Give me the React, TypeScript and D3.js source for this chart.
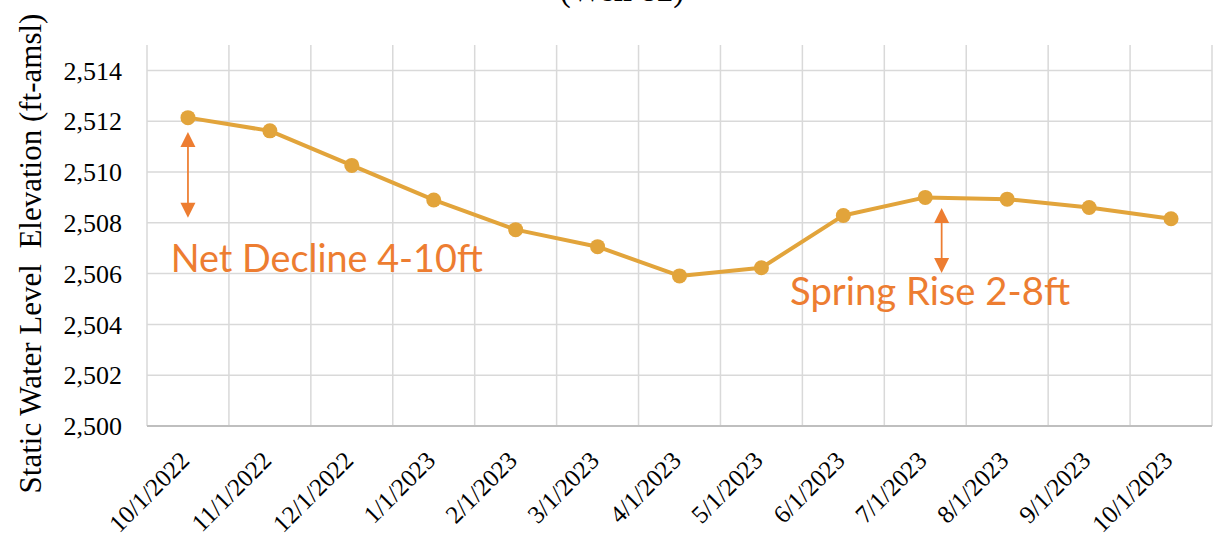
import React from "react";
import * as d3 from "d3";

const categories = [
  "10/1/2022", "11/1/2022", "12/1/2022", "1/1/2023", "2/1/2023", "3/1/2023", "4/1/2023",
  "5/1/2023", "6/1/2023", "7/1/2023", "8/1/2023", "9/1/2023", "10/1/2023",
];
const elevations = [
  2512.14, 2511.62, 2510.26, 2508.9, 2507.73, 2507.06, 2505.91,
  2506.23, 2508.29, 2509.0, 2508.93, 2508.6, 2508.16,
];
const yTicks = [2500, 2502, 2504, 2506, 2508, 2510, 2512, 2514];
const yDomain = [2500, 2515];

// annotations (category, band offset, top value, bottom value)
const arrowCategories = ["10/1/2022", "7/1/2023"];
const arrowOffsets = [0.5, 0.7];
const arrowTops = [2511.57, 2508.58];
const arrowBottoms = [2508.2, 2506.02];
const noteTexts = ["Net Decline 4-10ft", "Spring Rise 2-8ft"];
const noteCategories = ["10/1/2022", "6/1/2023"];
const noteOffsets = [0.29, -0.15];
const noteValues = [2506.06, 2504.76];
const noteWidths = [312, 280];

const W = 1216, H = 540;
const left = 147, right = 1212, top = 45, bottom = 426;

export default function App() {
  const x = d3.scaleBand<string>().domain(categories).range([left, right]).padding(0);
  const y = d3.scaleLinear().domain(yDomain).range([bottom, top]);
  const bw = x.bandwidth();
  const cx = (c: string) => (x(c) as number) + bw / 2;
  const line = d3
    .line<number>()
    .x((_, i) => cx(categories[i]))
    .y((d) => y(d));
  const boundaries = categories.map((c) => x(c) as number).concat([right]);
  const orange = "#ED7D31";
  const gold = "#E2A43B";
  const head = 15;

  return (
    <svg width={W} height={H} style={{ position: "absolute", left: 0, top: 0, background: "#fff" }}>
      <text x={622} y={1} textAnchor="middle" fontFamily="'Liberation Serif', 'Times New Roman', serif" fontSize={33} fill="#000">
        (Well 82)
      </text>
      {yTicks.map((t) => (
        <line key={"h" + t} x1={left} x2={right} y1={y(t)} y2={y(t)} stroke="#d9d9d9" strokeWidth={1.5} />
      ))}
      {boundaries.map((b, i) => (
        <line key={"v" + i} x1={b} x2={b} y1={top} y2={bottom} stroke="#d9d9d9" strokeWidth={1.5} />
      ))}
      <line x1={left} x2={right} y1={bottom} y2={bottom} stroke="#bfbfbf" strokeWidth={2} />
      {yTicks.map((t) => (
        <text key={"yt" + t} x={122} y={y(t)} dy="0.35em" textAnchor="end"
          fontFamily="'Liberation Serif', 'Times New Roman', serif" fontSize={26} fill="#000">
          {d3.format(",")(t)}
        </text>
      ))}
      {categories.map((c) => (
        <text key={"xt" + c} transform={`translate(${cx(c) + 3},${462}) rotate(-45)`} textAnchor="end"
          fontFamily="'Liberation Serif', 'Times New Roman', serif" fontSize={25} fill="#000">
          {c}
        </text>
      ))}
      <text transform={`translate(41,${253.5}) rotate(-90)`} textAnchor="middle" xmlSpace="preserve"
        fontFamily="'Liberation Serif', 'Times New Roman', serif" fontSize={31} fill="#000">
        Static Water Level  Elevation (ft-amsl)
      </text>
      <path d={line(elevations) || ""} fill="none" stroke={gold} strokeWidth={4} strokeLinejoin="round" />
      {elevations.map((v, i) => (
        <circle key={"p" + i} cx={cx(categories[i])} cy={y(v)} r={7.5} fill={gold} />
      ))}
      {arrowCategories.map((c, i) => {
        const ax = (x(c) as number) + bw * arrowOffsets[i];
        const t = y(arrowTops[i]);
        const b = y(arrowBottoms[i]);
        return (
          <g key={"a" + i}>
            <line x1={ax} x2={ax} y1={t + head - 2} y2={b - head + 2} stroke={orange} strokeWidth={1.75} />
            <path d={`M${ax},${t} L${ax - head / 2},${t + head} L${ax + head / 2},${t + head} Z`} fill={orange} />
            <path d={`M${ax},${b} L${ax - head / 2},${b - head} L${ax + head / 2},${b - head} Z`} fill={orange} />
          </g>
        );
      })}
      {noteTexts.map((s, i) => (
        <text key={"n" + i} x={(x(noteCategories[i]) as number) + bw * noteOffsets[i]} y={y(noteValues[i])}
          fontFamily="Lato, 'Open Sans', sans-serif" fontSize={38} fill={orange}
          textLength={noteWidths[i]} lengthAdjust="spacingAndGlyphs">
          {s}
        </text>
      ))}
    </svg>
  );
}
